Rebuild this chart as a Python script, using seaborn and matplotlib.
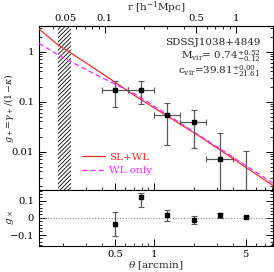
import matplotlib
matplotlib.use("Agg")
import matplotlib.pyplot as plt
import matplotlib.ticker as mticker
import seaborn as sns
import pandas as pd
import numpy as np

# binned tangential reduced shear (theta in arcmin)
theta = [0.5, 0.79, 1.26, 2.0, 3.16, 5.0]
theta_lo = [0.40, 0.63, 0.99, 1.58, 2.51, 3.98]
theta_hi = [0.63, 0.99, 1.58, 2.51, 3.98, 6.3]
g_plus = [0.17, 0.17, 0.054, 0.0385, 0.0072, 0.0001]
g_plus_lo = [0.077, 0.089, 0.0137, 0.0119, 0.0001, 0.00001]
g_plus_hi = [0.262, 0.262, 0.095, 0.068, 0.0233, 0.0103]

# cross shear
g_cross = [-0.038, 0.122, 0.017, -0.013, 0.015, 0.005]
g_cross_lo = [-0.107, 0.064, -0.019, -0.036, 0.001, 0.0]
g_cross_hi = [0.031, 0.146, 0.048, 0.011, 0.026, 0.010]

# model curves
model_theta = [0.1315, 0.184, 0.231, 0.384, 0.736, 2.25, 8.18]
sl_wl = [2.83, 1.355, 0.938, 0.391, 0.1236, 0.0198, 0.00205]
wl_only = [1.466, 0.855, 0.628, 0.315, 0.1355, 0.0205, 0.0023]

# strong lensing region (hatched)
sl_region = [0.184, 0.231]
r_per_arcmin = 0.2385

sns.set_style("ticks")
plt.rcParams["font.family"] = ["DejaVu Serif"]
plt.rcParams["mathtext.fontset"] = "dejavuserif"
plt.rcParams["font.size"] = 7.5
plt.rcParams["hatch.linewidth"] = 0.6
for a in ["x", "y"]:
    plt.rcParams[f"{a}tick.direction"] = "in"
    plt.rcParams[f"{a}tick.major.size"] = 5
    plt.rcParams[f"{a}tick.minor.size"] = 2.5
    plt.rcParams[f"{a}tick.major.width"] = 0.7
    plt.rcParams[f"{a}tick.minor.width"] = 0.6
    plt.rcParams[f"{a}tick.labelsize"] = 7.2
    plt.rcParams[f"{a}tick.color"] = "black"

fig = plt.figure(figsize=(2.74, 2.72), dpi=100)
ax1 = fig.add_axes([39 / 274, 1 - 190 / 272, 234 / 274, 164.3 / 272])
ax2 = fig.add_axes([39 / 274, 1 - 245.5 / 272, 234 / 274, 55.5 / 272], sharex=ax1)

models = pd.DataFrame({"theta": model_theta * 2,
                       "g": sl_wl + wl_only,
                       "model": ["SL+WL"] * len(sl_wl) + ["WL only"] * len(wl_only)})

ax1.axvspan(sl_region[0], sl_region[1], facecolor="white", edgecolor="black",
            hatch="////////", lw=0, zorder=1)
sns.lineplot(data=models, x="theta", y="g", hue="model", style="model",
             palette={"SL+WL": "#ff2a2a", "WL only": "#ff22ff"},
             dashes={"SL+WL": "", "WL only": (4, 2.5)}, lw=0.9, ax=ax1, zorder=3)

t = np.array(theta)
gp = np.array(g_plus)
ax1.errorbar(t, gp, yerr=[gp - np.array(g_plus_lo), np.array(g_plus_hi) - gp],
             xerr=[t - np.array(theta_lo), np.array(theta_hi) - t],
             fmt="s", ms=3.5, color="black", ecolor="0.35", elinewidth=0.9,
             capsize=2.5, capthick=0.8, zorder=4)

ax1.set_xscale("log")
ax1.set_yscale("log")
ax1.set_xlim(0.1315, 8.1)
ax1.set_ylim(0.0017, 3.3)
ax1.set_yticks([0.01, 0.1, 1])
ax1.set_yticklabels(["0.01", "0.1", "1"])
ax1.yaxis.set_minor_formatter(mticker.NullFormatter())
ax1.tick_params(which="both", right=True, top=False, labelbottom=False)
ax1.set_xlabel("")
ax1.set_ylabel(r"$g_+\!=\!\gamma_+/(1\!-\!\kappa)$", fontsize=6.8)
ax1.yaxis.set_label_coords(-0.1, 0.5)

leg = ax1.legend(loc="upper left", bbox_to_anchor=(0.16, 0.26), frameon=False,
                 handlelength=2.2, handletextpad=0.45, labelspacing=0.4,
                 labelcolor="linecolor", fontsize=7.5, borderpad=0)

ax1.text(0.945, 0.899, "SDSSJ1038+4849", transform=ax1.transAxes, ha="right", va="center")
ax1.text(0.945, 0.811, r"M$_{\rm vir}$= 0.74$^{+0.52}_{-0.12}$", transform=ax1.transAxes,
         ha="right", va="center")
ax1.text(0.945, 0.725, r"c$_{\rm vir}$=39.81$^{+0.00}_{-21.61}$", transform=ax1.transAxes,
         ha="right", va="center")

secax = ax1.secondary_xaxis("top", functions=(lambda x: x * r_per_arcmin,
                                              lambda x: x / r_per_arcmin))
secax.set_xticks([0.05, 0.1, 0.5, 1])
secax.set_xticklabels(["0.05", "0.1", "0.5", "1"])
secax.xaxis.set_minor_formatter(mticker.NullFormatter())
secax.tick_params(which="both", direction="in", pad=2)
secax.set_xlabel(r"r [h$^{-1}$Mpc]", labelpad=2)

gc = np.array(g_cross)
ax2.errorbar(t, gc, yerr=[gc - np.array(g_cross_lo), np.array(g_cross_hi) - gc],
             fmt="s", ms=3.5, color="black", ecolor="0.35", elinewidth=0.9,
             capsize=2.5, capthick=0.8, zorder=4)
ax2.axhline(0, color="0.55", ls=(0, (1, 1.5)), lw=0.8, zorder=1)
ax2.set_ylim(-0.163, 0.163)
ax2.set_yticks([-0.1, 0, 0.1])
ax2.set_yticklabels([r"$-$0.1", "0", "0.1"])
ax2.yaxis.set_minor_locator(mticker.MultipleLocator(0.02))
ax2.set_xticks([0.5, 1, 5])
ax2.set_xticklabels(["0.5", "1", "5"])
ax2.xaxis.set_minor_formatter(mticker.NullFormatter())
ax2.tick_params(which="both", right=True, top=False)
ax2.set_ylabel(r"$g_\times$")
ax2.yaxis.set_label_coords(-0.1, 0.5)
ax2.set_xlabel(r"$\theta$ [arcmin]")
ax2.xaxis.set_label_coords(0.5, -0.25)

for ax in [ax1, ax2]:
    for s in ax.spines.values():
        s.set_linewidth(0.8)
        s.set_color("black")

fig.savefig("out.png", dpi=100)
